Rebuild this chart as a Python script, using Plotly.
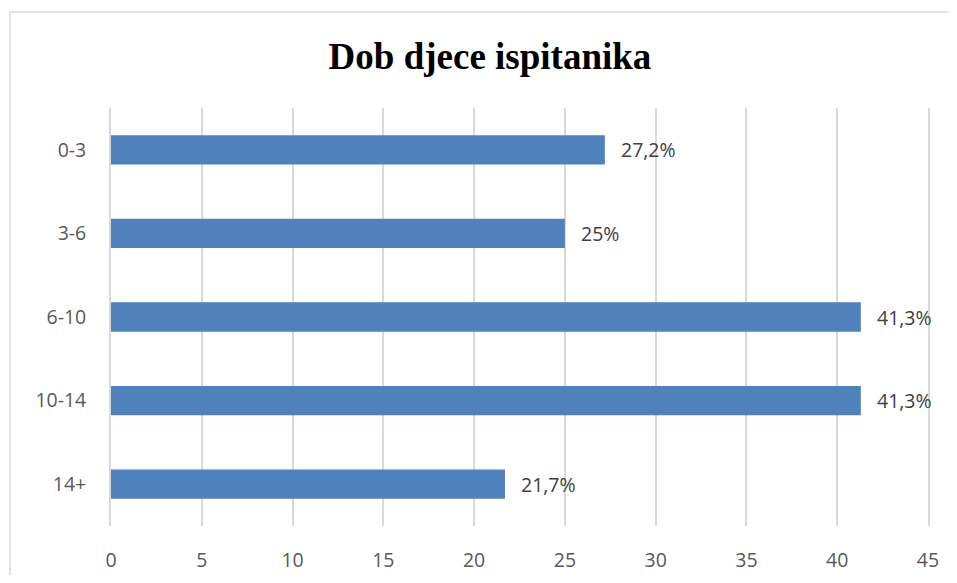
import plotly.graph_objects as go

categories = ["0-3", "3-6", "6-10", "10-14", "14+"]
values = [27.2, 25, 41.3, 41.3, 21.7]
labels = ["27,2%", "25%", "41,3%", "41,3%", "21,7%"]
x_ticks = [0, 5, 10, 15, 20, 25, 30, 35, 40, 45]

# page has an 8px body margin; figure coordinates are page coordinates minus 8
OFF = 8
W, H = 957 - OFF, 583 - 2 * OFF
L, T = 111 - OFF, 108 - OFF
pw, ph = 817, 418
R, B = W - L - pw, H - T - ph

FONT = "Open Sans, Segoe UI, sans-serif"

fig = go.Figure()
fig.add_trace(go.Bar(
    x=values, y=categories, orientation="h",
    marker=dict(color="#4F81BD", line=dict(width=0)),
    width=0.35, hoverinfo="skip",
))
for v, c, t in zip(values, categories, labels):
    fig.add_annotation(x=v, y=c, text=t, showarrow=False, xanchor="left",
                       xshift=14, font=dict(family=FONT, size=19.5, color="#404040"))

fig.add_shape(type="rect", xref="paper", yref="paper",
              x0=(10 - OFF - L) / pw, x1=(975 - OFF - L) / pw,
              y0=-0.3, y1=(T + ph - (12 - OFF)) / ph,
              line=dict(color="#d9d9d9", width=1.5), layer="below")

fig.update_layout(
    width=W, height=H,
    margin=dict(l=L, r=R, t=T, b=B, autoexpand=False),
    paper_bgcolor="white", plot_bgcolor="white",
    showlegend=False,
    title=dict(text="<b>Dob djece ispitanika</b>", x=(490 - OFF) / W, xanchor="center",
               y=1 - (56 - OFF) / H, yanchor="middle",
               font=dict(family="Liberation Serif, Times New Roman, serif", size=37, color="black")),
    xaxis=dict(range=[0, 45], tickvals=x_ticks, showgrid=True, gridcolor="#d9d9d9", gridwidth=1.7,
               zeroline=False, showline=False, ticks="", ticklabelstandoff=20, automargin=False,
               tickfont=dict(family=FONT, size=19.5, color="#595959"), fixedrange=True),
    yaxis=dict(categoryorder="array", categoryarray=categories, autorange="reversed",
               showgrid=False, zeroline=False, showline=True, mirror=True, automargin=False,
               linecolor="#d9d9d9", linewidth=1.7, ticks="", ticklabelstandoff=19,
               tickfont=dict(family=FONT, size=19.5, color="#595959"), fixedrange=True),
)

fig.write_html("out.html")
